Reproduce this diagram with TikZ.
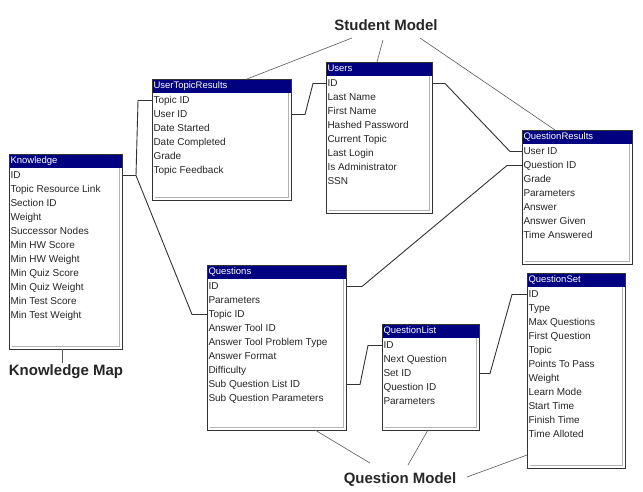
\documentclass[tikz,border=0pt]{standalone}
\usepackage{fontspec}
\setmainfont{Liberation Sans}
\usetikzlibrary{calc}
\definecolor{hdr}{RGB}{0,0,128}
\tikzset{
  tframe/.style={draw=black!80, line width=1pt, fill=white, inner sep=0pt, outer sep=0pt, rectangle},
  htext/.style={text=white, inner sep=0pt, outer sep=0pt, anchor=west, text height=7pt, text depth=2pt, font=\fontsize{9.5}{10}\selectfont},
  field/.style={inner sep=0pt, outer sep=0pt, anchor=west, text height=7.5pt, text depth=2pt, text=black!85, font=\fontsize{10}{11}\selectfont},
  conn/.style={draw=black!80, line width=0.9pt},
  lbl/.style={font=\fontsize{15}{16}\selectfont\bfseries, inner sep=1pt, text=black!85},
  lblline/.style={draw=black!65, line width=0.6pt},
}
\newcommand{\dbtable}[7]{%
  \node[tframe, anchor=north west, minimum width=#4pt, minimum height=#5pt] (#1) at (#2,#3) {};
  \fill[hdr] (#1.north west) rectangle ($(#1.north east)+(0,14)$);
  \coordinate (#1-hs) at ($(#1.north west)+(0,14)$);
  \node[htext] (#1-t) at ($(#1.north west)+(1.5,7)$) {#6};
  \foreach \f [count=\i] in {#7} {\node[field] (#1-\i) at ($(#1-hs)+(1.5,7.5+14*\i-14)$) {\f};}
  \draw[gray!60, line width=0.5pt] ($(#1.north east)+(-2.5,14)$) -- ($(#1.south east)+(-2.5,-2.5)$) -- ($(#1.south west)+(2.5,-2.5)$);
  \draw[black!80, line width=1pt] (#1.north west) rectangle (#1.south east);
}
\begin{document}
\begin{tikzpicture}[x=1pt, y=-1pt]
\useasboundingbox[fill=white] (0,0) rectangle (643,491);

\dbtable{k}{9}{154}{113}{195}{Knowledge}{ID,Topic Resource Link,Section ID,Weight,Successor Nodes,Min HW Score,Min HW Weight,Min Quiz Score,Min Quiz Weight,Min Test Score,Min Test Weight}
\dbtable{utr}{152}{79}{139}{121}{UserTopicResults}{Topic ID,User ID,Date Started,Date Completed,Grade,Topic Feedback}
\dbtable{users}{326}{62}{106}{151}{Users}{ID,Last Name,First Name,Hashed Password,Current Topic,Last Login,Is Administrator,SSN}
\dbtable{qr}{522}{130}{110}{134}{QuestionResults}{User ID,Question ID,Grade,Parameters,Answer,Answer Given,Time Answered}
\dbtable{q}{207}{265}{139}{165}{Questions}{ID,Parameters,Topic ID,Answer Tool ID,Answer Tool Problem Type,Answer Format,Difficulty,Sub Question List ID,Sub Question Parameters}
\dbtable{ql}{382}{324}{97}{106}{QuestionList}{ID,Next Question,Set ID,Question ID,Parameters}
\dbtable{qs}{527}{273}{98}{195}{QuestionSet}{ID,Type,Max Questions,First Question,Topic,Points To Pass,Weight,Learn Mode,Start Time,Finish Time,Time Alloted}

% relationships
\draw[conn] (k.east |- k-1) -- ++(14,0) coordinate (kj) -- ($(utr.west |- utr-1)+(-14,0)$) -- (utr.west |- utr-1);
\draw[conn] (kj) -- ($(q.west |- q-3)+(-15,0)$) -- (q.west |- q-3);
\draw[conn] (utr.east |- utr-2) -- ++(14,0) -- ($(users.west |- users-1)+(-13,0)$) -- (users.west |- users-1);
\draw[conn] (users.east |- users-1) -- ++(13,0) -- ($(qr.west |- qr-1)+(-12,0)$) -- (qr.west |- qr-1);
\draw[conn] (q.east |- q-1) -- ++(16,0) -- ($(qr.west |- qr-2)+(-15,0)$) -- (qr.west |- qr-2);
\draw[conn] (q.east |- q-8) -- ++(14,0) -- ($(ql.west |- ql-1)+(-14,0)$) -- (ql.west |- ql-1);
\draw[conn] (ql.east |- ql-3) -- ++(11,0) -- ($(qs.west |- qs-1)+(-15,0)$) -- (qs.west |- qs-1);

% labels
\node[lbl] (sm) at (386,25) {Student Model};
\node[lbl] (km) at (66,372) {Knowledge Map};
\node[lbl] (qm) at (400,480) {Question Model};

\draw[lblline] ($(sm)+(-34,13)$) -- ($(utr.north west)+(95,0)$);
\draw[lblline] ($(sm)+(-3,15)$) -- ($(users.north west)+(51,0)$);
\draw[lblline] ($(sm)+(34,13)$) -- ($(qr.north west)+(33,0)$);
\draw[lblline] ($(k.south west)+(53,0)$) -- ($(km)+(-4,-9)$);
\draw[lblline] ($(q.south west)+(108,0)$) -- ($(qm)+(-30,-17)$);
\draw[lblline] ($(ql.south west)+(46,0)$) -- ($(qm)+(8,-15)$);
\draw[lblline] ($(qm)+(67,-3)$) -- ($(qs.south west)+(0,-13)$);
\end{tikzpicture}
\end{document}
